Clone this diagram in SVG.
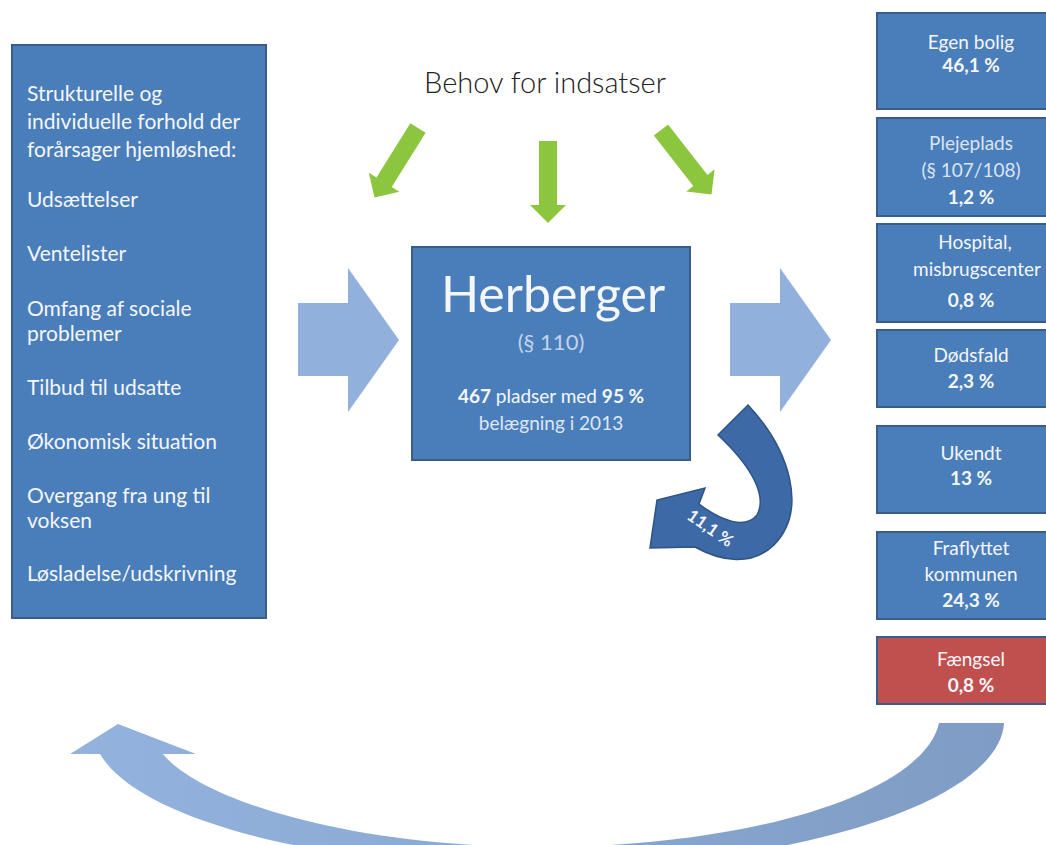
<svg xmlns="http://www.w3.org/2000/svg" width="1046" height="845" viewBox="0 0 1046 845">
<defs>
<style>
.box{fill:#4a7ebb;stroke:#385d8a;stroke-width:2}
.red{fill:#c0504d;stroke:#385d8a;stroke-width:2}
.t{font-family:Lato,"Liberation Sans",sans-serif;fill:#f4f6fa}
.lt{font-size:21px}
.rt{font-size:19px;text-anchor:middle}
.b{font-weight:bold}
.big{fill:#91b0db}
.green{fill:#8cc63f}
</style>
<linearGradient id="arcg" x1="0" y1="0" x2="1" y2="0">
<stop offset="0" stop-color="#93b3de"/>
<stop offset="1" stop-color="#7f9cc4"/>
</linearGradient>
<path id="garrow" d="M-9 0 H9 V64 H18 L0 82 L-18 64 H-9 Z"/>
</defs>
<rect width="1046" height="845" fill="#fff"/>

<g id="connectors">
<use href="#garrow" class="green" transform="translate(548,141)"/>
<use href="#garrow" class="green" transform="translate(418,128) rotate(32)"/>
<use href="#garrow" class="green" transform="translate(661,130) rotate(-38)"/>
<path class="big" d="M298 303 H348 V268 L399 340 L348 412 V376 H298 Z"/>
<path class="big" d="M730 303 H780 V268 L831 340 L780 412 V376 H730 Z"/>
<path fill="url(#arcg)" d="M1004 723 C1000 800 800 868 540 868 C330 868 140 822 100 754 L70 754 L118 724 L196 754 L163 754 C200 800 350 847 540 847 C760 847 925 790 939 723 Z"/>
<path fill="#3d6aa6" stroke="#2e5384" stroke-width="1.5" d="M748 405 C790 450 808 510 774 545 C752 566 722 562 695 547 L650 548 L657 500 L705 488 L699 504 C720 520 745 530 757 515 C768 495 750 465 718 435 Z"/>
<text class="t b" font-size="17" transform="translate(707,533) rotate(35)" text-anchor="middle">11,1 %</text>
</g>

<g id="left-box">
<rect class="box" x="12" y="45" width="254" height="573"/>
<text class="t lt" x="27"><tspan x="27" y="101">Strukturelle og</tspan><tspan x="27" y="129">individuelle forhold der</tspan><tspan x="27" y="157">forårsager hjemløshed:</tspan><tspan x="27" y="207">Udsættelser</tspan><tspan x="27" y="261">Ventelister</tspan><tspan x="27" y="316">Omfang af sociale</tspan><tspan x="27" y="341">problemer</tspan><tspan x="27" y="395">Tilbud til udsatte</tspan><tspan x="27" y="449">Økonomisk situation</tspan><tspan x="27" y="503">Overgang fra ung til</tspan><tspan x="27" y="528">voksen</tspan><tspan x="27" y="581">Løsladelse/udskrivning</tspan></text>
</g>

<g id="behov">
<text x="545" y="93" font-family="Lato,'Liberation Sans',sans-serif" font-size="29" font-weight="300" fill="#222" text-anchor="middle">Behov for indsatser</text>
</g>

<g id="herberger">
<rect class="box" x="412" y="247" width="278" height="213"/>
<text class="t" x="553" y="312" font-size="50" text-anchor="middle">Herberger</text>
<text class="t" x="551" y="350" font-size="22" text-anchor="middle" style="fill:#c3d3ea">(§ 110)</text>
<text class="t" x="551" y="403" font-size="19" text-anchor="middle"><tspan class="b">467</tspan> pladser med <tspan class="b">95 %</tspan></text>
<text class="t" x="551" y="430" font-size="19" text-anchor="middle" style="fill:#dde6f2">belægning i 2013</text>
</g>

<g id="egen-bolig">
<rect class="box" x="877" y="13" width="190" height="96"/>
<text class="t rt" x="971" y="49">Egen bolig</text>
<text class="t rt b" x="971" y="72">46,1 %</text>
</g>
<g id="plejeplads">
<rect class="box" x="877" y="118" width="190" height="98"/>
<text class="t rt" x="971" y="150" style="fill:#dbe4f1">Plejeplads</text>
<text class="t rt" x="971" y="177" style="fill:#dbe4f1">(§ 107/108)</text>
<text class="t rt b" x="971" y="204">1,2 %</text>
</g>
<g id="hospital">
<rect class="box" x="877" y="224" width="190" height="98"/>
<text class="t rt" x="975" y="249">Hospital,</text>
<text class="t rt" x="977" y="276">misbrugscenter</text>
<text class="t rt b" x="971" y="307">0,8 %</text>
</g>
<g id="doedsfald">
<rect class="box" x="877" y="330" width="190" height="77"/>
<text class="t rt" x="971" y="362">Dødsfald</text>
<text class="t rt b" x="971" y="388">2,3 %</text>
</g>
<g id="ukendt">
<rect class="box" x="877" y="426" width="190" height="87"/>
<text class="t rt" x="971" y="460">Ukendt</text>
<text class="t rt b" x="971" y="485">13 %</text>
</g>
<g id="fraflyttet">
<rect class="box" x="877" y="532" width="190" height="87"/>
<text class="t rt" x="971" y="555">Fraflyttet</text>
<text class="t rt" x="971" y="581">kommunen</text>
<text class="t rt b" x="971" y="607">24,3 %</text>
</g>
<g id="faengsel">
<rect class="red" x="877" y="637" width="190" height="67"/>
<text class="t rt" x="971" y="666">Fængsel</text>
<text class="t rt b" x="971" y="692">0,8 %</text>
</g>
</svg>
